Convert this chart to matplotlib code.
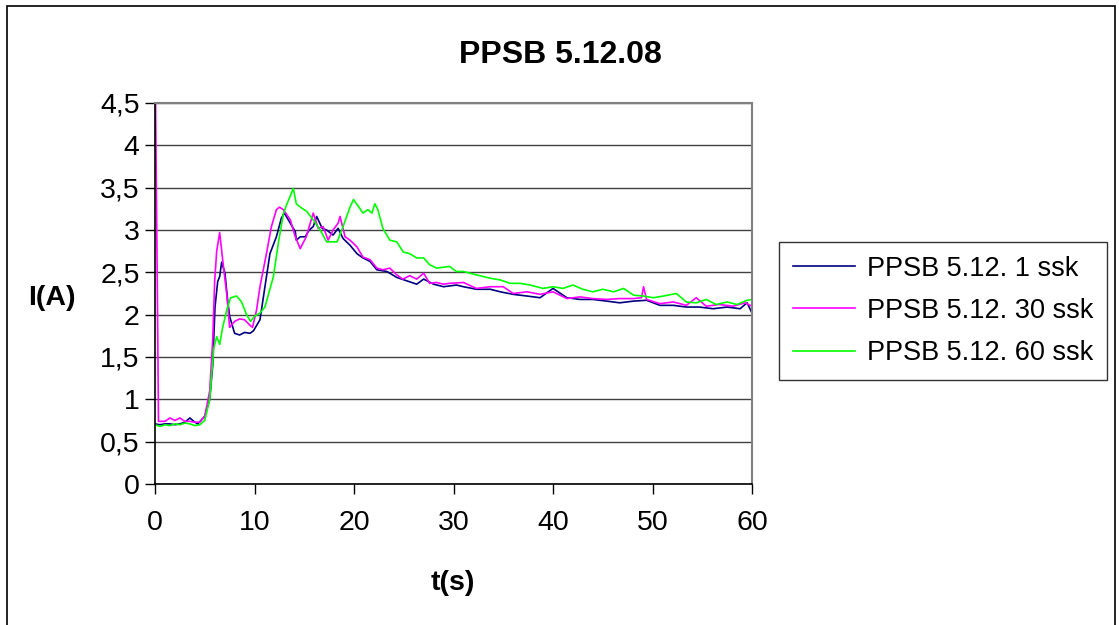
#!/usr/bin/env python3

import matplotlib
matplotlib.use('Agg')
import matplotlib.pyplot as plt
from matplotlib.patches import Rectangle

plt.rcParams['font.family'] = ['Liberation Sans', 'DejaVu Sans']

# series (time in s, current in A)
t_1ssk = [0, 0.5, 1, 1.5, 2, 2.5, 3, 3.5, 4, 4.3, 5, 5.5, 5.8, 6.03, 6.3, 6.5, 6.7,
          7.03, 7.3, 7.5, 8.0, 8.5, 9.0, 9.55, 9.9, 10.55, 11.05, 11.55, 12.2, 12.7,
          13.0, 13.6, 14.1, 14.2, 14.6, 15.1, 15.5, 15.9, 16.25, 16.8, 17.25, 17.9,
          18.4, 18.9, 19.6, 20.3, 20.9, 21.6, 22.3, 23.3, 24.3, 25.3, 26.3, 27.0,
          28.0, 29.0, 30.3, 31.0, 32.3, 33.7, 34.7, 36.0, 37.4, 38.7, 40.0, 41.4,
          42.7, 44.0, 45.4, 46.7, 48.1, 49.4, 50.75, 52.1, 53.4, 54.7, 56.1, 57.5,
          58.8, 59.5, 60]
i_1ssk = [0.71, 0.70, 0.71, 0.71, 0.70, 0.71, 0.73, 0.78, 0.73, 0.71, 0.80, 1.00, 1.40,
          2.09, 2.39, 2.45, 2.62, 2.49, 2.17, 1.98, 1.78, 1.76, 1.79, 1.78, 1.81, 1.94,
          2.33, 2.72, 2.92, 3.14, 3.20, 3.08, 2.98, 2.88, 2.92, 2.92, 3.00, 3.04, 3.16,
          3.02, 3.00, 2.94, 3.02, 2.90, 2.82, 2.72, 2.67, 2.63, 2.53, 2.51, 2.44, 2.40,
          2.36, 2.42, 2.36, 2.33, 2.35, 2.33, 2.30, 2.30, 2.27, 2.24, 2.22, 2.20, 2.31,
          2.20, 2.18, 2.18, 2.16, 2.14, 2.16, 2.17, 2.11, 2.11, 2.09, 2.09, 2.07, 2.09,
          2.07, 2.14, 2.02]

t_30ssk = [0, 0.25, 0.35, 0.5, 1, 1.5, 2, 2.5, 3, 3.5, 4, 4.5, 5, 5.5, 5.8, 6.0, 6.2,
           6.5, 6.8, 7.2, 7.5, 8.0, 8.5, 9.0, 9.5, 9.8, 10.2, 10.55, 11.2, 11.7, 12.2,
           12.5, 12.9, 13.6, 14.1, 14.6, 15.2, 15.6, 15.9, 16.4, 16.9, 17.4, 17.9,
           18.4, 18.6, 19.1, 19.6, 20.3, 20.9, 21.6, 22.3, 22.9, 23.6, 24.3, 24.9,
           25.6, 26.3, 27.0, 27.6, 28.3, 29.0, 29.6, 31.0, 32.3, 33.7, 35.0, 36.0,
           37.4, 38.7, 40.0, 41.4, 42.7, 44.0, 45.4, 46.7, 48.1, 48.9, 49.1, 49.4,
           50.75, 52.1, 53.4, 54.4, 55.4, 56.7, 58.1, 59.3, 60]
i_30ssk = [5.2, 2.1, 0.74, 0.74, 0.74, 0.78, 0.75, 0.78, 0.74, 0.74, 0.73, 0.73, 0.80,
           1.10, 1.70, 2.40, 2.75, 2.97, 2.65, 2.25, 1.85, 1.92, 1.95, 1.94, 1.88, 1.85,
           2.05, 2.33, 2.72, 3.04, 3.24, 3.27, 3.24, 3.12, 2.92, 2.78, 2.92, 3.08, 3.20,
           3.02, 3.04, 2.88, 3.00, 3.08, 3.16, 2.92, 2.88, 2.80, 2.68, 2.65, 2.55, 2.53,
           2.55, 2.47, 2.42, 2.46, 2.42, 2.49, 2.37, 2.38, 2.36, 2.37, 2.38, 2.31, 2.33,
           2.33, 2.25, 2.27, 2.24, 2.27, 2.19, 2.21, 2.19, 2.18, 2.19, 2.19, 2.20, 2.33,
           2.18, 2.13, 2.15, 2.11, 2.20, 2.10, 2.12, 2.10, 2.14, 2.10]

t_60ssk = [0, 0.5, 1, 1.5, 2, 2.5, 3, 3.5, 4, 4.5, 5.0, 5.5, 5.9, 6.2, 6.5, 6.8, 7.2,
           7.6, 8.2, 8.7, 9.2, 9.6, 10.0, 10.55, 11.05, 11.9, 12.4, 12.9, 13.2, 13.9,
           14.2, 14.6, 15.25, 15.9, 16.6, 17.25, 18.3, 18.9, 19.6, 19.95, 20.5, 20.9,
           21.4, 21.8, 22.1, 22.4, 22.9, 23.6, 24.3, 24.95, 25.6, 26.3, 27.0, 27.6,
           28.3, 29.0, 29.6, 30.3, 31.0, 32.3, 33.7, 34.7, 35.7, 36.7, 37.7, 39.0,
           40.0, 41.0, 42.0, 43.0, 44.0, 45.0, 46.1, 47.1, 48.1, 49.1, 50.1, 51.1,
           52.4, 53.4, 54.4, 55.4, 56.4, 57.5, 58.5, 59.5, 60]
i_60ssk = [0.70, 0.68, 0.70, 0.69, 0.71, 0.70, 0.72, 0.71, 0.69, 0.70, 0.75, 1.00,
           1.60, 1.74, 1.65, 1.85, 2.05, 2.20, 2.22, 2.15, 2.00, 1.92, 1.98, 2.02,
           2.09, 2.45, 2.85, 3.19, 3.29, 3.49, 3.31, 3.27, 3.22, 3.12, 3.00, 2.86,
           2.86, 3.04, 3.27, 3.36, 3.27, 3.20, 3.24, 3.20, 3.31, 3.24, 3.02, 2.88,
           2.86, 2.74, 2.72, 2.67, 2.67, 2.59, 2.55, 2.56, 2.57, 2.51, 2.51, 2.47,
           2.43, 2.41, 2.37, 2.37, 2.35, 2.31, 2.33, 2.31, 2.35, 2.30, 2.27, 2.30,
           2.27, 2.31, 2.23, 2.22, 2.20, 2.22, 2.25, 2.15, 2.14, 2.18, 2.12, 2.15,
           2.12, 2.17, 2.18]

labels = ['PPSB 5.12. 1 ssk', 'PPSB 5.12. 30 ssk', 'PPSB 5.12. 60 ssk']
colors = ['#000080', '#FF00FF', '#00FF00']

x_ticks = [0, 10, 20, 30, 40, 50, 60]
y_ticks = [0, 0.5, 1, 1.5, 2, 2.5, 3, 3.5, 4, 4.5]
y_ticklabels = ['0', '0,5', '1', '1,5', '2', '2,5', '3', '3,5', '4', '4,5']


def main():
    W, H = 1119, 625
    fig = plt.figure(figsize=(W / 100, H / 100), dpi=100)
    ax = fig.add_axes([155 / W, 1 - 484 / H, (752 - 155) / W, (484 - 103) / H])

    for t, y, lab, c in zip([t_1ssk, t_30ssk, t_60ssk],
                            [i_1ssk, i_30ssk, i_60ssk], labels, colors):
        ax.plot(t, y, color=c, lw=1.2, label=lab)

    ax.set_xlim(0, 60)
    ax.set_ylim(0, 4.5)
    ax.set_xticks(x_ticks)
    ax.set_yticks(y_ticks)
    ax.set_yticklabels(y_ticklabels)
    ax.tick_params(labelsize=20.5, length=7, width=1, direction='out', colors='black', pad=4)
    ax.tick_params(axis='x', pad=12)
    ax.grid(axis='y', color='#404040', lw=1)
    ax.set_axisbelow(True)
    for s in ['top', 'right']:
        ax.spines[s].set_color('#808080')
        ax.spines[s].set_linewidth(1.5)
    for s in ['left', 'bottom']:
        ax.spines[s].set_color('black')
        ax.spines[s].set_linewidth(1.2)

    fig.text(560 / W, 1 - 55 / H, 'PPSB 5.12.08', ha='center', va='center',
             fontsize=23, fontweight='bold')
    fig.text(52 / W, 1 - 298 / H, 'I(A)', ha='center', va='center',
             fontsize=20.5, fontweight='bold')
    fig.text(453 / W, 1 - 583 / H, 't(s)', ha='center', va='center',
             fontsize=20.5, fontweight='bold')

    leg = fig.legend(loc='upper left', bbox_to_anchor=(779 / W, 1 - 242 / H),
                     fontsize=19.5, frameon=True, fancybox=False, edgecolor='black',
                     handlelength=2.3, handletextpad=0.45, labelspacing=0.6,
                     borderpad=0.5, borderaxespad=0)
    leg.get_frame().set_linewidth(1)

    # outer chart border
    fig.patches.append(Rectangle((7 / W, -0.01), (1115 - 7) / W, 1 - 6 / H + 0.01,
                                 transform=fig.transFigure, fill=False,
                                 edgecolor='black', lw=1.2))

    fig.savefig('out.png', dpi=100)


if __name__ == "__main__":
    main()
